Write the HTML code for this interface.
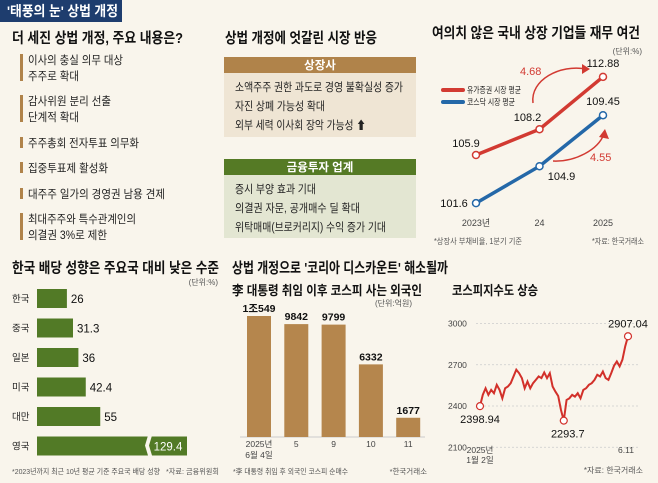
<!DOCTYPE html>
<html><head><meta charset="utf-8">
<style>
body{margin:0;background:#f9f5ec;}
svg{display:block;font-family:"Liberation Sans","Noto Sans CJK KR",sans-serif;}
.h{font-weight:bold;font-size:14.5px;fill:#111;}
.t{font-size:11.5px;fill:#222;}
.s{font-size:8px;fill:#555;}
</style></head>
<body>
<svg id="root" width="658" height="483" viewBox="0 0 658 483">
<rect width="658" height="483" fill="#f9f5ec"/>
<rect x="0" y="0" width="122" height="22" fill="#1e3d6e"/>
<text x="7" y="16" font-size="14" font-weight="bold" fill="#fff" textLength="111" lengthAdjust="spacingAndGlyphs">'태풍의 눈' 상법 개정</text>

<text x="12" y="43" class="h" textLength="171" lengthAdjust="spacingAndGlyphs">더 세진 상법 개정, 주요 내용은?</text>
<g>
<rect x="20" y="54" width="3" height="27" fill="#b0834a"/><text x="28" y="64" class="t" textLength="95" lengthAdjust="spacingAndGlyphs">이사의 충실 의무 대상</text><text x="28" y="80" class="t" textLength="51" lengthAdjust="spacingAndGlyphs">주주로 확대</text>
<rect x="20" y="95" width="3" height="27" fill="#b0834a"/><text x="28" y="105" class="t" textLength="83" lengthAdjust="spacingAndGlyphs">감사위원 분리 선출</text><text x="28" y="121" class="t" textLength="51" lengthAdjust="spacingAndGlyphs">단계적 확대</text>
<rect x="20" y="137" width="3" height="11" fill="#b0834a"/><text x="28" y="147" class="t" textLength="111" lengthAdjust="spacingAndGlyphs">주주총회 전자투표 의무화</text>
<rect x="20" y="162" width="3" height="11" fill="#b0834a"/><text x="28" y="172" class="t" textLength="80" lengthAdjust="spacingAndGlyphs">집중투표제 활성화</text>
<rect x="20" y="188" width="3" height="11" fill="#b0834a"/><text x="28" y="198" class="t" textLength="137" lengthAdjust="spacingAndGlyphs">대주주 일가의 경영권 남용 견제</text>
<rect x="20" y="213" width="3" height="27" fill="#b0834a"/><text x="28" y="223" class="t" textLength="108" lengthAdjust="spacingAndGlyphs">최대주주와 특수관계인의</text><text x="28" y="239" class="t" textLength="79" lengthAdjust="spacingAndGlyphs">의결권 3%로 제한</text>
</g>

<text x="225" y="43" class="h" textLength="152" lengthAdjust="spacingAndGlyphs">상법 개정에 엇갈린 시장 반응</text>
<g>
<rect x="224" y="57" width="192" height="16" fill="#b0834a"/>
<text x="320" y="69" text-anchor="middle" font-size="11.5" font-weight="bold" fill="#fff">상장사</text>
<rect x="224" y="73" width="192" height="64" fill="#efe5d4"/>
<text x="235" y="91" class="t" textLength="168" lengthAdjust="spacingAndGlyphs">소액주주 권한 과도로 경영 불확실성 증가</text>
<text x="235" y="110" class="t" textLength="90" lengthAdjust="spacingAndGlyphs">자진 상폐 가능성 확대</text>
<text x="235" y="129" class="t" textLength="131" lengthAdjust="spacingAndGlyphs">외부 세력 이사회 장악 가능성 ⬆</text>
</g>
<g>
<rect x="224" y="159" width="192" height="16" fill="#557a25"/>
<text x="320" y="171" text-anchor="middle" font-size="11.5" font-weight="bold" fill="#fff">금융투자 업계</text>
<rect x="224" y="175" width="192" height="63" fill="#e3e6d2"/>
<text x="235" y="193" class="t" textLength="81" lengthAdjust="spacingAndGlyphs">증시 부양 효과 기대</text>
<text x="235" y="212" class="t" textLength="125" lengthAdjust="spacingAndGlyphs">의결권 자문, 공개매수 딜 확대</text>
<text x="235" y="231" class="t" textLength="151" lengthAdjust="spacingAndGlyphs">위탁매매(브로커리지) 수익 증가 기대</text>
</g>

<text x="432" y="38" class="h" font-size="14" textLength="208" lengthAdjust="spacingAndGlyphs">여의치 않은 국내 상장 기업들 재무 여건</text>
<text x="642" y="54" text-anchor="end" class="s">(단위:%)</text>
<g id="debt"></g>
<g>
<line x1="443" y1="90" x2="463" y2="90" stroke="#d23a32" stroke-width="4" stroke-linecap="round"/>
<text x="467" y="93" font-size="8.5" fill="#222" textLength="54" lengthAdjust="spacingAndGlyphs">유가증권 시장 평균</text>
<line x1="443" y1="102" x2="463" y2="102" stroke="#2468a8" stroke-width="4" stroke-linecap="round"/>
<text x="467" y="105" font-size="8.5" fill="#222" textLength="48" lengthAdjust="spacingAndGlyphs">코스닥 시장 평균</text>
</g>
<g>
<path d="M533,103 C530,80 560,64 586,69" fill="none" stroke="#d23a32" stroke-width="1.5"/>
<path d="M582,64 L590,69 L582,74 Z" fill="#d23a32"/>
<text x="520" y="75" font-size="11" fill="#d23a32">4.68</text>
<path d="M553,161 C575,162 598,150 604,134" fill="none" stroke="#d23a32" stroke-width="1.5"/>
<path d="M599,137 L605,129 L609,139 Z" fill="#d23a32"/>
<text x="590" y="161" font-size="11" fill="#d23a32">4.55</text>
</g>
<text x="434" y="244" class="s" textLength="88" lengthAdjust="spacingAndGlyphs">*상장사 부채비율, 1분기 기준</text>
<text x="644" y="244" text-anchor="end" class="s" textLength="52" lengthAdjust="spacingAndGlyphs">*자료: 한국거래소</text>

<text x="12" y="273" class="h" textLength="207" lengthAdjust="spacingAndGlyphs">한국 배당 성향은 주요국 대비 낮은 수준</text>
<text x="218" y="285" text-anchor="end" class="s">(단위:%)</text>
<g id="div"></g>
<text x="12" y="474" font-size="7.5" fill="#555" textLength="148" lengthAdjust="spacingAndGlyphs">*2023년까지 최근 10년 평균 기준 주요국 배당 성향</text>
<text x="166" y="474" font-size="7.5" fill="#555" textLength="53" lengthAdjust="spacingAndGlyphs">*자료: 금융위원회</text>

<text x="232" y="273" class="h" textLength="216" lengthAdjust="spacingAndGlyphs">상법 개정으로 '코리아 디스카운트' 해소될까</text>
<text x="232" y="295" font-size="13" font-weight="bold" fill="#111" textLength="190" lengthAdjust="spacingAndGlyphs">李 대통령 취임 이후 코스피 사는 외국인</text>
<text x="412" y="306" text-anchor="end" class="s">(단위:억원)</text>
<g id="fb"></g>
<text x="233" y="474" font-size="7.5" fill="#555" textLength="115" lengthAdjust="spacingAndGlyphs">*李 대통령 취임 후 외국인 코스피 순매수</text>
<text x="427" y="474" text-anchor="end" font-size="7.5" fill="#555">*한국거래소</text>

<text x="452" y="295" font-size="13" font-weight="bold" fill="#111" textLength="86" lengthAdjust="spacingAndGlyphs">코스피지수도 상승</text>
<g id="kospi"></g>
<text x="643" y="473" text-anchor="end" class="s">*자료: 한국거래소</text>
</svg>
<script>
const NS='http://www.w3.org/2000/svg';
function mk(p,tag,a,txt){const e=document.createElementNS(NS,tag);for(const k in a)e.setAttribute(k,a[k]);if(txt!==undefined)e.textContent=txt;p.appendChild(e);return e;}

const debtYears=['2023년','24','2025'];
const kospiDebt=[105.9,108.2,112.88];
const kosdaqDebt=[101.6,104.9,109.45];
const dx=i=>476+i*63.5;
const dy=v=>155-(v-105.9)*11.2;
const dg=document.getElementById('debt');
debtYears.forEach((y,i)=>{const t=mk(dg,'text',{x:dx(i),y:226,'text-anchor':'middle','font-size':9,fill:'#444'},y);

});
[[kospiDebt,'#d23a32','kospi-debt'],[kosdaqDebt,'#2468a8','kosdaq-debt']].forEach(([arr,c,n])=>{
 const l=mk(dg,'polyline',{points:arr.map((v,i)=>dx(i)+','+dy(v)).join(' '),fill:'none',stroke:c,'stroke-width':3.5});
 
 
 arr.forEach((v,i)=>{const p=mk(dg,'circle',{cx:dx(i),cy:dy(v),r:3.5,fill:'#fff',stroke:c,'stroke-width':1.5});
 
 });
});
const lab=[[kospiDebt[0],0,-10,-8],[kospiDebt[1],1,-12,-8],[kospiDebt[2],2,0,-10],[kosdaqDebt[0],0,-22,4],[kosdaqDebt[1],1,22,14],[kosdaqDebt[2],2,0,-10]];
lab.forEach(([v,i,ox,oy])=>{const t=mk(dg,'text',{x:dx(i)+ox,y:dy(v)+oy,'text-anchor':'middle','font-size':11,fill:'#111'},String(v));

});

const countries=['한국','중국','일본','미국','대만','영국'];
const payout=[26,31.3,36,42.4,55,129.4];
const bx0=37, bs=1.15;
const rowY=i=>289+i*29.5;
const vg=document.getElementById('div');
countries.forEach((c,i)=>{
 const t=mk(vg,'text',{x:12,y:rowY(i)+13,'font-size':9.5,fill:'#222'},c);
 
 
 const v=payout[i]; let w=v*bs; const brk=v>100;
 if(brk){w=150;}
 const r=mk(vg,'rect',{x:bx0,y:rowY(i),width:w,height:19,fill:'#527a26'});
 
 
 if(brk){
  mk(vg,'path',{d:`M${bx0+111},${rowY(i)-1} l-3,10 l3,10 l4,0 l-3,-10 l3,-10 z`,fill:'#f9f5ec'});
  const t2=mk(vg,'text',{x:bx0+131,y:rowY(i)+14,'text-anchor':'middle','font-size':11.5,fill:'#fff'},String(v));
  
  
 } else {
  const t2=mk(vg,'text',{x:bx0+w+4,y:rowY(i)+14,'font-size':11.5,fill:'#111'},String(v));
  
  
 }
});

const fbCats=[['2025년','6월 4일'],['5'],['9'],['10'],['11']];
const fbVals=[10549,9842,9799,6332,1677];
const fbLabels=['1조549','9842','9799','6332','1677'];
const fx=i=>259+i*37.3;
const fbase=437, fk=0.01147;
const fg=document.getElementById('fb');
mk(fg,'line',{x1:240,y1:fbase,x2:425,y2:fbase,stroke:'#ccc','stroke-width':1});
fbVals.forEach((v,i)=>{
 const h=v*fk;
 const r=mk(fg,'rect',{x:fx(i)-12,y:fbase-h,width:24,height:h,fill:'#b5864d'});
 
 
 const t=mk(fg,'text',{x:fx(i),y:fbase-h-4,'text-anchor':'middle','font-size':10.5,'font-weight':'bold',fill:'#111'},fbLabels[i]);
 
 
 fbCats[i].forEach((s,j)=>{const c=mk(fg,'text',{x:fx(i),y:447+j*11,'text-anchor':'middle','font-size':8.5,fill:'#444'},s);
 
 });
});

const kTicks=[3000,2700,2400,2100];
const kospi=[2398.94,2481,2529,2481,2517,2493,2554,2517,2456,2529,2542,2566,2615,2664,2639,2603,2529,2578,2529,2566,2590,2615,2603,2644,2603,2639,2542,2505,2473,2371,2293.7,2444,2456,2481,2468,2493,2456,2517,2529,2554,2566,2590,2627,2615,2651,2603,2590,2639,2693,2724,2688,2737,2834,2907.04];
const ky=v=>406-(v-2400)*0.1375;
const kx=i=>480+i*(628-480)/(kospi.length-1);
const kg=document.getElementById('kospi');
kTicks.forEach(t=>{
 const l=mk(kg,'line',{x1:476,y1:ky(t),x2:640,y2:ky(t),stroke:'#ccc','stroke-dasharray':'2,2','stroke-width':0.8});
 
 
 const tx=mk(kg,'text',{x:448,y:ky(t)+3,'font-size':8.5,fill:'#444'},String(t));
 
 
});
const kl=mk(kg,'polyline',{points:kospi.map((v,i)=>kx(i)+','+ky(v)).join(' '),fill:'none',stroke:'#d2302a','stroke-width':2});


const iMin=kospi.indexOf(Math.min(...kospi));
[[0,-4,17],[iMin,0,17],[kospi.length-1,-4,-9]].forEach(([i,ox,oy])=>{
 const c=mk(kg,'circle',{cx:kx(i),cy:ky(kospi[i]),r:3.5,fill:'#fff',stroke:'#d2302a','stroke-width':1.2});
 
 
 const t=mk(kg,'text',{x:kx(i)+ox+4,y:ky(kospi[i])+oy,'text-anchor':'middle','font-size':11,fill:'#111'},String(kospi[i]));
 
 
});
[['2025년',480,453],['1월 2일',480,463],['6.11',626,453]].forEach(([s,x,y])=>{
 const t=mk(kg,'text',{x:x,y:y,'text-anchor':'middle','font-size':8.5,fill:'#444'},s);
 
 
});
</script>
</body></html>
